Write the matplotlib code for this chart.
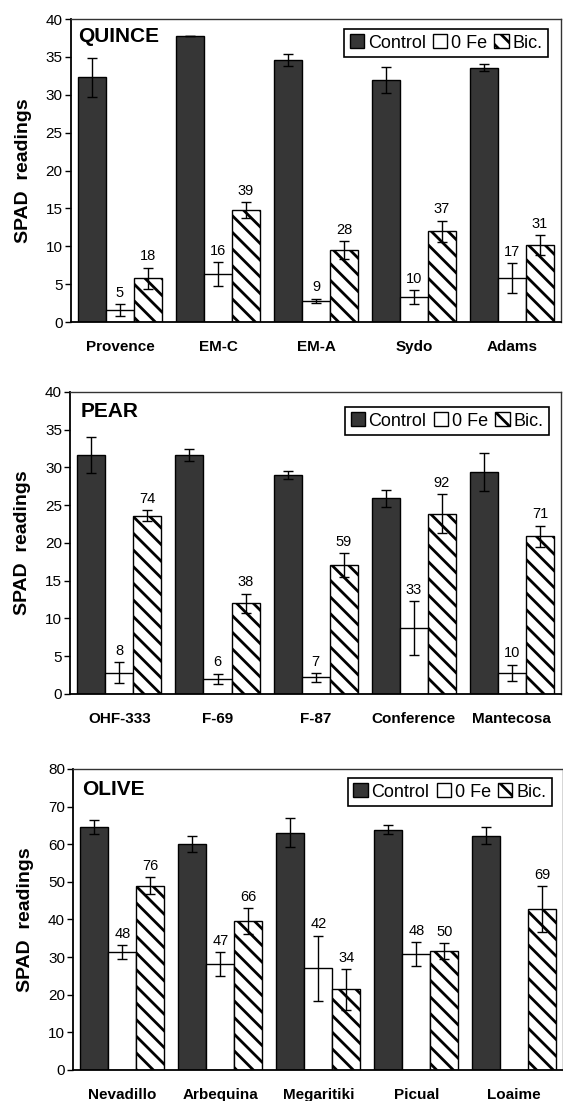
import numpy as np
import matplotlib
matplotlib.use('Agg')
import matplotlib.pyplot as plt

plt.rcParams['font.family'] = ['Liberation Sans', 'DejaVu Sans']
plt.rcParams['hatch.linewidth'] = 2.0

# ---------------- data ----------------
quince_cats = ['Provence', 'EM-C', 'EM-A', 'Sydo', 'Adams']
quince_control = [32.3, 37.8, 34.6, 32.0, 33.6]
quince_control_err = [2.6, 0.0, 0.8, 1.7, 0.4]
quince_zero_fe = [1.6, 6.3, 2.8, 3.3, 5.8]
quince_zero_fe_err = [0.8, 1.6, 0.3, 0.9, 2.0]
quince_bic = [5.8, 14.8, 9.5, 12.0, 10.2]
quince_bic_err = [1.4, 1.0, 1.2, 1.4, 1.3]
quince_zero_fe_pct = [5, 16, 9, 10, 17]
quince_bic_pct = [18, 39, 28, 37, 31]

pear_cats = ['OHF-333', 'F-69', 'F-87', 'Conference', 'Mantecosa']
pear_control = [31.7, 31.7, 29.0, 25.9, 29.4]
pear_control_err = [2.4, 0.8, 0.5, 1.1, 2.5]
pear_zero_fe = [2.8, 2.0, 2.2, 8.7, 2.8]
pear_zero_fe_err = [1.4, 0.7, 0.6, 3.6, 1.1]
pear_bic = [23.6, 12.0, 17.1, 23.9, 20.9]
pear_bic_err = [0.7, 1.3, 1.6, 2.6, 1.4]
pear_zero_fe_pct = [8, 6, 7, 33, 10]
pear_bic_pct = [74, 38, 59, 92, 71]

olive_cats = ['Nevadillo', 'Arbequina', 'Megaritiki', 'Picual', 'Loaime']
olive_control = [64.5, 60.1, 63.1, 63.9, 62.3]
olive_control_err = [1.9, 2.2, 3.8, 1.2, 2.2]
olive_zero_fe = [31.3, 28.2, 27.0, 30.8, np.nan]
olive_zero_fe_err = [1.9, 3.1, 8.7, 3.1, np.nan]
olive_bic = [49.0, 39.6, 21.4, 31.7, 42.8]
olive_bic_err = [2.2, 3.4, 5.4, 2.1, 6.1]
olive_zero_fe_pct = [48, 47, 42, 48, None]
olive_bic_pct = [76, 66, 34, 50, 69]

series_names = ['Control', '0 Fe', 'Bic.']

panels = [
    dict(title='QUINCE', cats=quince_cats, ymax=40, step=5,
         vals=[quince_control, quince_zero_fe, quince_bic],
         errs=[quince_control_err, quince_zero_fe_err, quince_bic_err],
         pcts=[None, quince_zero_fe_pct, quince_bic_pct],
         rect=[0.1261, 0.7075, 0.8703, 0.2752], leg=(0.973, 0.967),
         tpos=(0.014, 0.975)),
    dict(title='PEAR', cats=pear_cats, ymax=40, step=5,
         vals=[pear_control, pear_zero_fe, pear_bic],
         errs=[pear_control_err, pear_zero_fe_err, pear_bic_err],
         pcts=[None, pear_zero_fe_pct, pear_bic_pct],
         rect=[0.1249, 0.3697, 0.8715, 0.2743], leg=(0.975, 0.95),
         tpos=(0.02, 0.968)),
    dict(title='OLIVE', cats=olive_cats, ymax=80, step=10,
         vals=[olive_control, olive_zero_fe, olive_bic],
         errs=[olive_control_err, olive_zero_fe_err, olive_bic_err],
         pcts=[None, olive_zero_fe_pct, olive_bic_pct],
         rect=[0.1302, 0.0282, 0.8703, 0.2734], leg=(0.976, 0.97),
         tpos=(0.018, 0.962)),
]

fig = plt.figure(figsize=(5.63, 11.01), dpi=100)

bw = 0.286
offsets = [-bw, 0.0, bw]
styles = [dict(color='#363636', edgecolor='black', hatch=None),
          dict(color='white', edgecolor='black', hatch=None),
          dict(color='white', edgecolor='black', hatch='\\\\')]

for p in panels:
    ax = fig.add_axes(p['rect'])
    x = np.arange(len(p['cats']))
    handles = []
    for k in range(3):
        st = styles[k]
        b = ax.bar(x + offsets[k], p['vals'][k], width=bw, color=st['color'],
                   edgecolor=st['edgecolor'], hatch=st['hatch'], linewidth=1.0,
                   label=series_names[k], zorder=2)
        handles.append(b)
        ax.errorbar(x + offsets[k], p['vals'][k], yerr=p['errs'][k], fmt='none',
                    ecolor='black', elinewidth=1.0, capsize=3.5, capthick=1.0,
                    zorder=3)
        if p['pcts'][k] is not None:
            for i, lab in enumerate(p['pcts'][k]):
                if lab is None:
                    continue
                top = p['vals'][k][i] + p['errs'][k][i]
                ax.annotate(str(lab), (x[i] + offsets[k], top),
                            xytext=(0, 3), textcoords='offset points',
                            ha='center', va='bottom', fontsize=10.5)
    ax.set_xlim(-0.5, len(p['cats']) - 0.5)
    ax.set_ylim(0, p['ymax'])
    ax.set_yticks(np.arange(0, p['ymax'] + 1, p['step']))
    ax.set_xticks(x)
    ax.set_xticklabels(p['cats'], fontweight='bold', fontsize=11)
    ax.tick_params(axis='x', length=0, pad=13)
    ax.tick_params(axis='y', length=4, width=1.0, labelsize=11, pad=2)
    for s in ['left', 'bottom']:
        ax.spines[s].set_linewidth(1.3)
    for s in ['top', 'right']:
        ax.spines[s].set_linewidth(1.0)
        ax.spines[s].set_color('#333333')
    ax.set_ylabel('SPAD  readings', fontweight='bold', fontsize=14)
    ax.yaxis.set_label_coords(-0.08, 0.5)
    ax.text(p['tpos'][0], p['tpos'][1], p['title'], transform=ax.transAxes,
            ha='left', va='top', fontsize=15, fontweight='bold')
    leg = ax.legend(handles=handles, loc='upper right', bbox_to_anchor=p['leg'],
                    ncol=3, fontsize=13, frameon=True, fancybox=False,
                    edgecolor='black', framealpha=1, borderaxespad=0,
                    handlelength=0.8, handleheight=0.8, handletextpad=0.2,
                    columnspacing=0.4, borderpad=0.3)
    leg.get_frame().set_linewidth(1.2)

fig.savefig('out.png', dpi=100)
